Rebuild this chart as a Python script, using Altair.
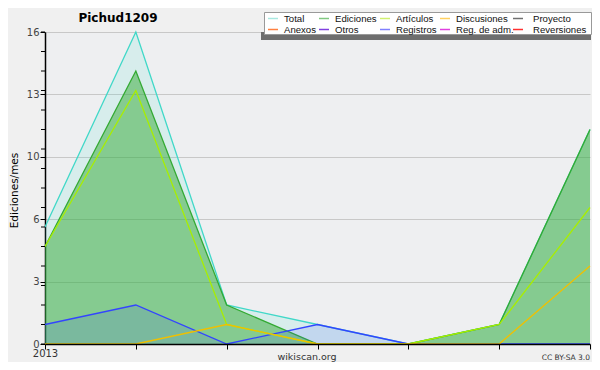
import altair as alt
import pandas as pd

# ---- data ----
x_idx = [0, 1, 2, 3, 4, 5, 6]
x_labels = ["2013", "", "", "", "", "", ""]
total = [6, 16, 2, 1, 0, 1, 11]
ediciones = [5, 14, 2, 0, 0, 1, 11]
articulos = [5, 13, 1, 0, 0, 1, 7]
discusiones = [0, 0, 1, 0, 0, 0, 4]
registros = [1, 2, 0, 1, 0, 0, 0]

legend_names = ["Total", "Ediciones", "Artículos", "Discusiones", "Proyecto",
                "Anexos", "Otros", "Registros", "Reg. de adm.", "Reversiones"]
legend_colors = ["#a8e8e0", "#80c880", "#d0f070", "#ffd060", "#707070",
                 "#ff8040", "#8040e0", "#8080ff", "#e040e0", "#ff3030"]

y_major = [0, 3.2, 6.4, 9.6, 12.8, 16]
y_minor = list(range(0, 17))

rows = []
for name, vals in [("Total", total), ("Ediciones", ediciones), ("Artículos", articulos),
                   ("Discusiones", discusiones), ("Registros", registros)]:
    for i, v in zip(x_idx, vals):
        rows.append({"serie": name, "i": i, "v": v})
df = pd.DataFrame(rows)

FONT = "DejaVu Sans"
LFONT = "Liberation Sans"
W, H = 545, 312

xscale = alt.Scale(domain=[0, 6], nice=False, zero=False)
yscale = alt.Scale(domain=[0, 16], nice=False)

label_expr = "[" + ",".join("'%s'" % s for s in x_labels) + "][datum.value]"

x_axis = alt.Axis(values=x_idx, labelExpr=label_expr, grid=False, domainColor="#000000",
                  domainWidth=1.5, tickColor="#000000", tickSize=5, labelFontSize=10,
                  labelFont=FONT, labelColor="#333333", labelPadding=-1, title=None,
                  zindex=1, labelFlush=False)
y_axis = alt.Axis(values=y_major, labelExpr="round(datum.value)", grid=True,
                  gridColor="#c8c8c8", gridWidth=1, domainColor="#000000", domainWidth=1.5,
                  tickColor="#000000", tickSize=5, labelFontSize=10, labelFont=FONT,
                  labelColor="#444444", labelPadding=1, title="Ediciones/mes",
                  titleFont=FONT, titleFontSize=10.5, titleFontWeight="normal",
                  titleColor="#000000", titleAngle=-90, titleX=-31, titleY=158,
                  titleAlign="center", titleBaseline="middle", zindex=0)

base = alt.Chart(df)


def enc(a, fld="v"):
    return a.encode(
        x=alt.X("i:Q", scale=xscale, axis=x_axis),
        y=alt.Y(f"{fld}:Q", scale=yscale, axis=y_axis),
    )


def area(name, color, op):
    return enc(base.transform_filter(alt.datum.serie == name).mark_area(
        color=color, opacity=op, interpolate="linear"))


def line(name, color, w=1.3):
    return enc(base.transform_filter(alt.datum.serie == name).mark_line(
        color=color, strokeWidth=w, interpolate="linear"))


layers = [
    area("Total", "#40e0d0", 0.13),
    line("Total", "#40d8c8"),
    area("Ediciones", "#33aa33", 0.5),
    line("Ediciones", "#33aa33"),
    area("Registros", "#3344ff", 0.13),
    line("Registros", "#3344ff"),
    line("Artículos", "#a8ee00"),
    line("Discusiones", "#f0c000"),
]

# minor ticks on the y axis (drawn through the y scale)
minor = alt.Chart(pd.DataFrame({"v": y_minor})).mark_rule(
    color="#000000", strokeWidth=1).encode(
    y=alt.Y("v:Q", scale=yscale, axis=y_axis), x=alt.value(-4), x2=alt.value(0))

one = pd.DataFrame({"a": [0]})

# legend box with shadow (positions are layout, in pixels of the plot area)
shadow = alt.Chart(one).mark_rect(color="#6e6e6e").encode(
    x=alt.value(216), x2=alt.value(546), y=alt.value(0), y2=alt.value(8))
box = alt.Chart(one).mark_rect(fill="#ffffff", stroke="#999999", strokeWidth=1).encode(
    x=alt.value(219.5), x2=alt.value(546.5), y=alt.value(-19.5), y2=alt.value(2.5))

sym_x = [223, 274, 335, 395, 468]
lab_x = [239, 290, 351, 411, 488]
row_y = [-13.5, -2.5]
legend_layers = []
for k, (nm, col) in enumerate(zip(legend_names, legend_colors)):
    c, r = k % 5, k // 5
    legend_layers.append(alt.Chart(one).mark_rule(color=col, strokeWidth=1.5).encode(
        x=alt.value(sym_x[c]), x2=alt.value(sym_x[c] + 10), y=alt.value(row_y[r])))
    legend_layers.append(alt.Chart(pd.DataFrame({"t": [nm]})).mark_text(
        font=LFONT, fontSize=9.6, color="#111111", align="left", baseline="middle").encode(
        text="t:N", x=alt.value(lab_x[c]), y=alt.value(row_y[r])))

title = alt.Chart(pd.DataFrame({"t": ["Pichud1209"]})).mark_text(
    font=FONT, fontSize=12, fontWeight="bold", color="#000000", align="center",
    baseline="middle").encode(text="t:N", x=alt.value(73), y=alt.value(-14))

site = alt.Chart(pd.DataFrame({"t": ["wikiscan.org"]})).mark_text(
    font=FONT, fontSize=9.5, color="#333333", align="center", baseline="bottom").encode(
    text="t:N", x=alt.value(262), y=alt.value(329.5))

lic = alt.Chart(pd.DataFrame({"t": ["CC BY-SA 3.0"]})).mark_text(
    font=FONT, fontSize=7.5, color="#333333", align="right", baseline="bottom").encode(
    text="t:N", x=alt.value(545), y=alt.value(329.5))

chart = alt.layer(*layers, minor, shadow, box, *legend_layers, title, site, lic).properties(
    width=W, height=H,
    autosize=alt.AutoSizeParams(type="none"),
    padding={"left": 37, "top": 24, "right": 2, "bottom": 18},
    background="#f0f0f0",
).configure_view(fill="#eeeff1", stroke=None)

chart.save("out.html", embed_options={"renderer": "svg", "actions": False})
